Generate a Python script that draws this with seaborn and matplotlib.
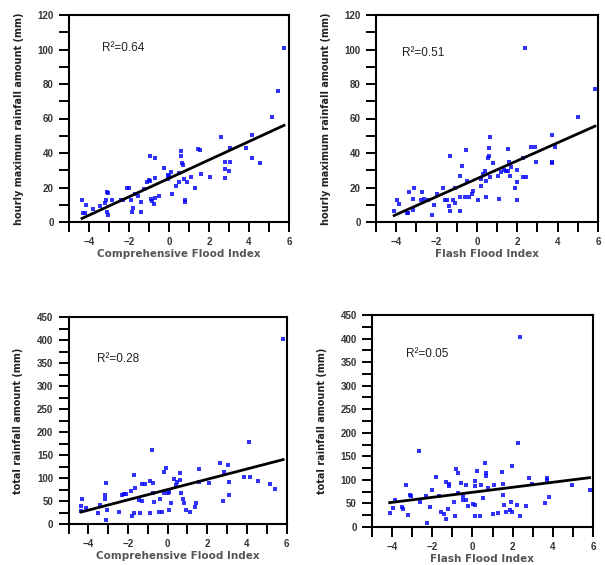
import matplotlib
matplotlib.use("Agg")
import matplotlib.pyplot as plt
from matplotlib.ticker import MultipleLocator
import seaborn as sns

# comprehensive flood index vs hourly maximum rainfall
cfi_hourly = [5.75, 5.45, 5.17, 4.14, 4.14, 3.86, 4.56, 2.6, 3.07, 2.8, 3.04, 2.8, 3.0, 2.8, 2.06,
              1.6, 1.43, 1.56, 1.31, 1.12, 0.92, 0.76, 0.59, 0.59, 0.67, 0.69, 0.8, 0.82, 0.5, 0.49,
              0.12, 0.0, -0.03, -0.25, 0.13, 0.33, -0.5, -0.7, -0.9, -0.95, -0.7, -0.7, -0.95, -1.1,
              -0.85, -0.75, -1.25, -1.7, -1.4, -1.4, -1.9, -1.8, -1.85, -2.1, -2.0, -2.3, -2.4, -2.85,
              -3.1, -3.05, -3.17, -3.2, -3.45, -3.1, -3.05, -3.8, -4.2, -4.15, -4.35, -4.3, -1.55, -1.0, -0.05]
hourly_cfi = [101, 76, 61, 50.5, 37, 43, 34, 49, 43, 34.5, 34.5, 31, 29.5, 25.5, 26,
              28, 42.5, 42, 20, 26, 23, 25, 41, 38.5, 34, 33, 13, 11.5, 28.5, 23,
              29, 26.5, 25, 31.5, 16.5, 21, 15, 14, 13.5, 38.5, 37, 25.5, 24, 23,
              12, 10.5, 19, 16, 11.5, 6, 13, 8, 6, 20, 20, 13, 13, 12.5,
              17.5, 17, 12.5, 11, 9, 6, 4, 7.5, 5, 10, 12.5, 5.5, 15, 24.5, 27]

# flash flood index vs hourly maximum rainfall
ffi_hourly = [2.4, 5.85, 5.0, 3.7, 3.85, 3.7, 3.7, 2.95, 2.7, 2.9, 2.3, 2.3, 2.45, 2.0, 2.0,
              1.9, 1.97, 1.55, 1.6, 1.68, 1.45, 1.35, 1.55, 1.2, 1.65, 1.05, 1.07, 0.64, 0.58, 0.58,
              0.53, 0.8, 0.66, 0.41, 0.28, 0.2, 0.45, 0.2, 0.45, 0.03, -0.2, -0.26, -0.38, -0.6, -0.5,
              -0.53, -0.73, -0.84, -0.82, -0.84, -1.1, -1.2, -1.1, -1.32, -1.37, -1.34, -1.5, -1.6, -1.68,
              -2.0, -2.15, -2.25, -2.4, -2.6, -2.7, -2.75, -3.1, -3.15, -3.15, -3.35, -3.4, -3.45, -3.85,
              -3.95, -4.1]
hourly_ffi = [101, 77, 61, 50.5, 43.5, 35, 34, 35, 43.5, 43.5, 37, 26, 26, 30, 23,
              20, 12.5, 42.5, 34.5, 32, 29.5, 30, 29.5, 29, 26.5, 26.5, 13.5, 49.5, 43, 38,
              37, 34, 26, 29.5, 28, 25, 24, 21, 14.5, 13, 18, 16.5, 14.5, 14.5, 24,
              41.5, 32.5, 26.5, 14.5, 6.5, 19.5, 12.5, 11, 38.5, 9.5, 6.5, 12.5, 12.5, 20,
              16, 10, 4, 12.5, 13.5, 17.5, 12.5, 20, 13.5, 7, 17.5, 5.5, 5.5, 10.5,
              13, 6.5]

# comprehensive flood index vs total rainfall
cfi_total = [5.83, 4.1, 4.15, 3.85, 4.55, 5.15, 5.4, 2.65, 3.05, 2.85, 3.08, 3.1, 2.8, 2.1, 1.6,
             1.6, 1.45, 1.4, 1.15, 0.95, 0.64, 0.62, 0.7, 0.8, 0.85, 0.45, 0.42, 0.32, 0.17, 0.07,
             -0.07, 0.0, 0.07, -0.2, -0.17, -0.4, -0.3, -0.45, -0.8, -0.9, -0.75, -0.72, -0.7, -0.9,
             -1.15, -1.3, -1.28, -1.42, -1.4, -1.65, -1.7, -1.85, -1.7, -1.8, -2.1, -2.2, -2.3, -2.45,
             -3.1, -3.15, -3.15, -3.05, -3.1, -3.4, -3.5, -4.1, -4.3, -4.37, -4.37]
total_cfi = [402, 178, 103, 103, 94, 87, 77, 132, 128, 114, 91, 64, 51, 90, 119,
             92, 46, 38, 26, 30, 110, 96, 67, 55, 46, 92, 85, 98, 46, 31,
             121, 67, 70, 114, 67, 54, 27, 27, 160, 94, 89, 67, 48, 25,
             87, 87, 51, 53, 24, 78, 106, 71, 25, 17, 66, 66, 64, 27,
             89, 64, 55, 31, 9, 42, 25, 34, 55, 40, 29]

# flash flood index vs total rainfall
ffi_total = [2.38, 2.27, -2.67, 0.61, 1.95, -0.84, -0.71, 0.25, 0.65, 0.65, 1.46, -1.8, -1.3, -1.16, -1.18,
             -0.56, -0.3, 0.15, 0.43, 0.15, 0.78, 1.06, 1.52, 2.8, 2.96, 3.7, 3.7, 4.97, 5.83, 1.52,
             1.55, 1.65, 1.87, 1.95, 1.9, 2.24, 2.68, 2.38, 1.29, 1.03, 3.62, 3.8, 0.51, 0.36, 0.12,
             0.03, 0.15, -0.2, -0.45, -0.32, -0.46, -0.7, -0.93, -0.88, -1.2, -1.34, -1.42, -1.59, -1.66,
             -2.0, -2.1, -2.24, -2.32, -2.62, -3.1, -3.05, -3.3, -3.2, -3.45, -3.5, -3.85, -3.96, -4.12]
total_ffi = [403, 179, 161, 135, 130, 124, 114, 118, 114, 109, 117, 106, 96, 92, 87,
             94, 89, 97, 90, 86, 82, 89, 92, 104, 91, 104, 99, 89, 79, 68,
             47, 32, 36, 32, 54, 46, 44, 24, 30, 28, 52, 63, 61, 24, 24,
             48, 47, 45, 57, 57, 66, 72, 54, 24, 38, 17, 27, 31, 65,
             79, 42, 8, 66, 54, 68, 66, 89, 26, 38, 42, 58, 40, 30]

r2_labels = ["R\u00b2=0.64", "R\u00b2=0.51", "R\u00b2=0.28", "R\u00b2=0.05"]
x_labels = ["Comprehensive Flood Index", "Flash Flood Index",
            "Comprehensive Flood Index", "Flash Flood Index"]
y_labels = ["hourly maximum rainfall amount (mm)", "hourly maximum rainfall amount (mm)",
            "total rainfall amount (mm)", "total rainfall amount (mm)"]

fig = plt.figure(figsize=(6.05, 5.65), dpi=100)

W, H = 605, 565
panels = [
    ([69 / W, 343 / H, 220 / W, 207 / H], cfi_hourly, hourly_cfi, 120, 20, 10, (-3.35, 101)),
    ([376 / W, 343 / H, 222 / W, 207 / H], ffi_hourly, hourly_ffi, 120, 20, 10, (-3.7, 98)),
    ([68.5 / W, 41 / H, 218 / W, 207 / H], cfi_total, total_cfi, 450, 50, 25, (-3.55, 358)),
    ([372 / W, 38 / H, 221 / W, 212 / H], ffi_total, total_ffi, 450, 50, 25, (-3.3, 368)),
]

for i, (pos, xs, ys, ytop, ymaj, ymin, txt) in enumerate(panels):
    ax = fig.add_axes(pos)
    sns.regplot(x=xs, y=ys, ax=ax, ci=None, marker="s",
                scatter_kws={"s": 10, "color": "#0000ff", "linewidths": 0, "clip_on": False},
                line_kws={"color": "black", "lw": 2})
    ax.set_xlim(-5, 6)
    ax.set_ylim(0, ytop)
    ax.xaxis.set_major_locator(MultipleLocator(2))
    ax.xaxis.set_minor_locator(MultipleLocator(1))
    ax.yaxis.set_major_locator(MultipleLocator(ymaj))
    ax.yaxis.set_minor_locator(MultipleLocator(ymin))
    ax.set_xticks([-4, -2, 0, 2, 4, 6])
    ax.tick_params(which="both", direction="out", width=1.4, length=7, labelsize=7)
    ax.tick_params(axis="y", pad=4)
    ax.tick_params(axis="x", pad=4)
    for lab in ax.get_xticklabels() + ax.get_yticklabels():
        lab.set_fontfamily("Liberation Sans")
        lab.set_fontweight("bold")
        lab.set_color("#333333")
    for sp in ax.spines.values():
        sp.set_linewidth(1.5)
    ax.set_xlabel(x_labels[i], fontsize=7.5, fontweight="bold", color="#555555",
                  family="DejaVu Sans", labelpad=1)
    ax.set_ylabel(y_labels[i], fontsize=7, fontweight="bold", color="#222222",
                  family="DejaVu Sans", labelpad=10)
    ax.text(txt[0], txt[1], r2_labels[i], fontsize=8.5, family="Liberation Sans",
            ha="left", va="center", color="#222222")

fig.savefig("out.png", dpi=100)
